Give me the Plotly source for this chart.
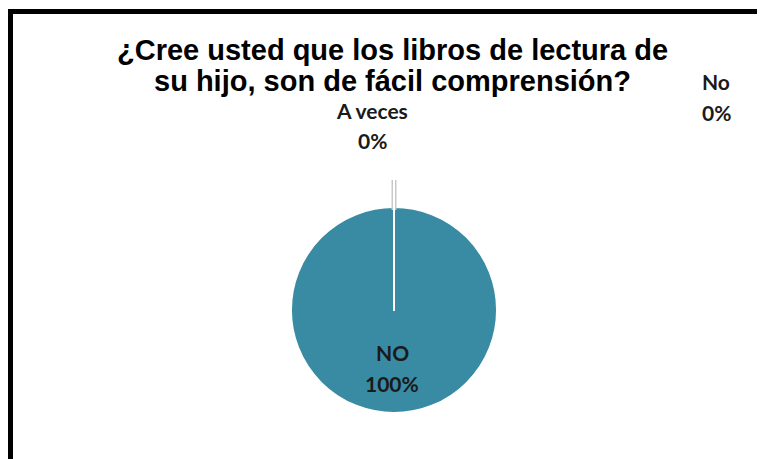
import plotly.graph_objects as go

# datos de la encuesta
labels = ["NO", "A veces", "No"]
values = [100, 0, 0]
title_lines = ["¿Cree usted que los libros de lectura de", "su hijo, son de fácil comprensión?"]

W, H = 765, 459
OFF = 8  # margen del body de la pagina
total = sum(values)
percents = [f"{round(v / total * 100)}%" for v in values]


def px(x):
    return (x - OFF) / W


def py(y):
    return 1 - (y - OFF) / H


fig = go.Figure()
fig.add_trace(go.Pie(
    labels=labels,
    values=values,
    sort=False,
    direction="clockwise",
    rotation=0,
    textinfo="none",
    hoverinfo="label+percent",
    marker=dict(colors=["#388BA2", "#388BA2", "#388BA2"],
                line=dict(color="white", width=2)),
    domain=dict(x=[px(394 - 103), px(394 + 103)], y=[py(413), py(207)]),
    showlegend=False,
))

# posiciones de las etiquetas (label, porcentaje)
label_pos = {"NO": (392, 352, 383), "A veces": (372, 110, 140), "No": (716, 81, 113)}
lab_font = dict(family="Lato", size=21, color="#1a1a1a")
for lab, pct in zip(labels, percents):
    x, y1, y2 = label_pos[lab]
    fig.add_annotation(x=px(x), y=py(y1), xref="paper", yref="paper", text=f"<b>{lab}</b>",
                       showarrow=False, font=lab_font, xanchor="center", yanchor="middle",
                       borderpad=0)
    fig.add_annotation(x=px(x), y=py(y2), xref="paper", yref="paper", text=f"<b>{pct}</b>",
                       showarrow=False, font=lab_font, xanchor="center", yanchor="middle",
                       borderpad=0)

# titulo en dos lineas
for line, y in zip(title_lines, [50, 81]):
    fig.add_annotation(x=px(392), y=py(y), xref="paper", yref="paper", text=f"<b>{line}</b>",
                       showarrow=False, xanchor="center", yanchor="middle", borderpad=0,
                       font=dict(family="Liberation Sans", size=29, color="black"))

# linea guia de "A veces"
fig.add_shape(type="line", xref="paper", yref="paper", x0=px(394), x1=px(394), y0=py(210), y1=py(180),
              line=dict(color="#c8c8c8", width=5))
fig.add_shape(type="line", xref="paper", yref="paper", x0=px(394), x1=px(394), y0=py(210), y1=py(180),
              line=dict(color="white", width=2))

# borde negro
fig.add_shape(type="rect", xref="paper", yref="paper", x0=px(10.5), x1=1.1, y0=-0.1, y1=py(11.5),
              line=dict(color="black", width=5), layer="above")

fig.update_layout(
    width=W, height=H,
    margin=dict(l=0, r=0, t=0, b=0),
    paper_bgcolor="white", plot_bgcolor="white",
)

fig.write_html("out.html")
